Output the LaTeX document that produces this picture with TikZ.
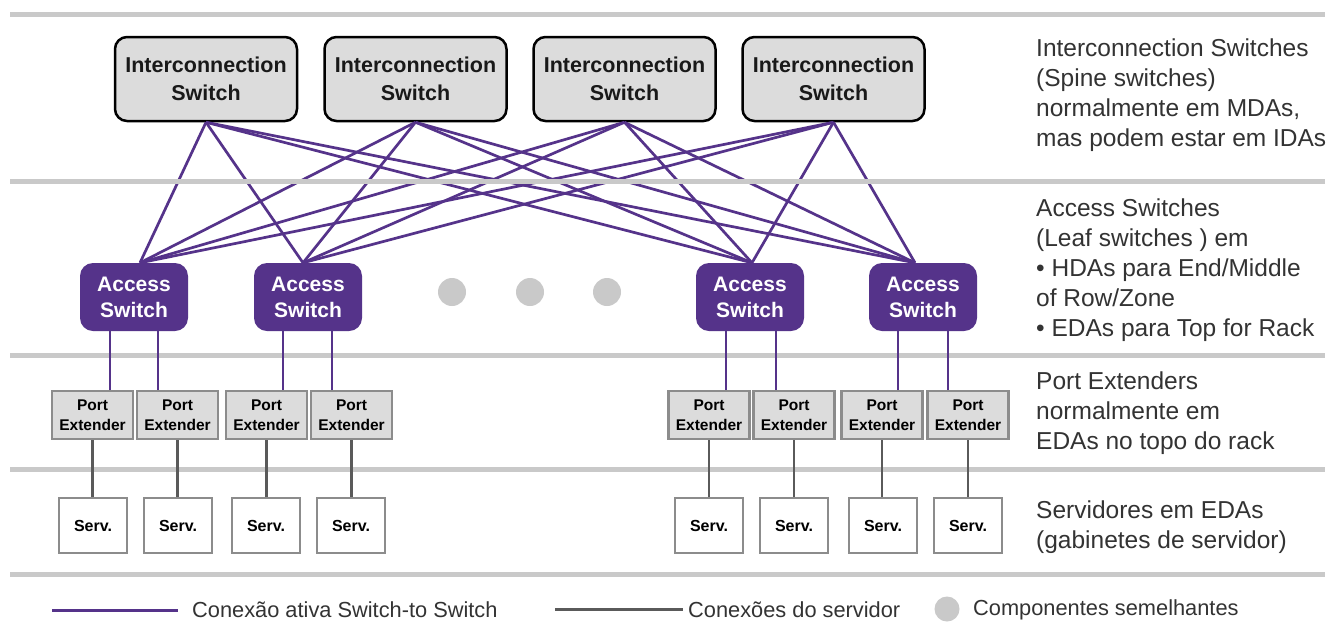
\documentclass[tikz,border=0pt]{standalone}
\usepackage{fontspec}
\setmainfont{Liberation Sans}
\definecolor{purp}{HTML}{55338A}
\definecolor{sepgray}{HTML}{C9C9C9}
\definecolor{boxgray}{HTML}{DCDCDC}
\definecolor{edgegray}{HTML}{8C8C8C}
\definecolor{linkgray}{HTML}{5A5A5A}
\definecolor{txtgray}{HTML}{333333}
\begin{document}
\begin{tikzpicture}[x=1pt,y=-1pt,
  sep/.style={draw=sepgray,line width=5pt},
  isw/.style={draw=black,line width=2.5pt,fill=boxgray,rounded corners=12pt,
    minimum width=182pt,minimum height=84pt,inner sep=0pt,align=center,
    font=\fontsize{21.5}{28}\selectfont\bfseries,text=black!90},
  asw/.style={fill=purp,rounded corners=13pt,minimum width=108pt,minimum height=68pt,
    inner sep=0pt,align=center,font=\fontsize{21}{26}\selectfont\bfseries,text=white},
  pext/.style={draw=edgegray,line width=2.5pt,fill=boxgray,minimum width=81pt,
    minimum height=48pt,inner sep=0pt,align=center,
    font=\fontsize{15.5}{20}\selectfont\bfseries,text=black},
  srv/.style={draw=edgegray,line width=2.5pt,fill=white,minimum width=68pt,
    minimum height=55pt,inner sep=0pt,font=\fontsize{16}{18}\selectfont\bfseries},
  plink/.style={draw=purp,line width=2.7pt},
  glink/.style={draw=linkgray,line width=2.8pt},
  dot/.style={circle,fill=sepgray,minimum size=28pt,inner sep=0pt},
  side/.style={anchor=north west,inner sep=0pt,align=left,text=txtgray,
    font=\fontsize{24.5}{30}\selectfont},
  legend/.style={anchor=west,inner sep=0pt,text=txtgray,font=\fontsize{21.8}{26}\selectfont}
]
\path[fill=white] (0,0) rectangle (1338,622);
\useasboundingbox (0,0) rectangle (1338,622);

% separators
\draw[sep] (10,14) -- (1325,14);
\draw[sep] (10,355) -- (1325,355);
\draw[sep] (10,469) -- (1325,469);
\draw[sep] (10,574) -- (1325,574);

% interconnection switches
\node[isw] (is1) at (206,79) {Interconnection\\Switch};
\node[isw] (is2) at (415.5,79) {Interconnection\\Switch};
\node[isw] (is3) at (624.5,79) {Interconnection\\Switch};
\node[isw] (is4) at (833.5,79) {Interconnection\\Switch};

% access switches
\node[asw] (as1) at (134,297) {Access\\Switch};
\node[asw] (as2) at (308,297) {Access\\Switch};
\node[asw] (as3) at (750,297) {Access\\Switch};
\node[asw] (as4) at (923,297) {Access\\Switch};

% similar components
\node[dot] (d1) at (452,292) {};
\node[dot] (d2) at (530,292) {};
\node[dot] (d3) at (607,292) {};

% port extenders
\node[pext] (pe1) at (92.5,415) {Port\\Extender};
\node[pext] (pe2) at (177.5,415) {Port\\Extender};
\node[pext] (pe3) at (266.5,415) {Port\\Extender};
\node[pext] (pe4) at (351.5,415) {Port\\Extender};
\node[pext] (pe5) at (709,415) {Port\\Extender};
\node[pext] (pe6) at (794,415) {Port\\Extender};
\node[pext] (pe7) at (882,415) {Port\\Extender};
\node[pext] (pe8) at (968,415) {Port\\Extender};

% servers
\node[srv] (s1) at (93,525.5) {Serv.};
\node[srv] (s2) at (178,525.5) {Serv.};
\node[srv] (s3) at (266,525.5) {Serv.};
\node[srv] (s4) at (351,525.5) {Serv.};
\node[srv] (s5) at (709,525.5) {Serv.};
\node[srv] (s6) at (794,525.5) {Serv.};
\node[srv] (s7) at (883,525.5) {Serv.};
\node[srv] (s8) at (968,525.5) {Serv.};

% spine-leaf mesh
\coordinate (t1) at ([xshift=6pt]as1.north);
\coordinate (t2) at ([xshift=-5pt]as2.north);
\coordinate (t3) at ([xshift=2pt]as3.north);
\coordinate (t4) at ([xshift=-8pt]as4.north);
\foreach \i in {1,2,3,4}{
  \foreach \j in {1,2,3,4}{
    \draw[plink] (is\i.south) -- (t\j);
  }
}
\draw[sep] (10,181) -- (1325,181);

% access to port extenders
\draw[plink] ([xshift=-24pt]as1.south) -- ([xshift=-24pt]as1.south |- pe1.north);
\draw[plink] ([xshift=24pt]as1.south) -- ([xshift=24pt]as1.south |- pe2.north);
\draw[plink] ([xshift=-25pt]as2.south) -- ([xshift=-25pt]as2.south |- pe3.north);
\draw[plink] ([xshift=24pt]as2.south) -- ([xshift=24pt]as2.south |- pe4.north);
\draw[plink] ([xshift=-24pt]as3.south) -- ([xshift=-24pt]as3.south |- pe5.north);
\draw[plink] ([xshift=26pt]as3.south) -- ([xshift=26pt]as3.south |- pe6.north);
\draw[plink] ([xshift=-25pt]as4.south) -- ([xshift=-25pt]as4.south |- pe7.north);
\draw[plink] ([xshift=25pt]as4.south) -- ([xshift=25pt]as4.south |- pe8.north);

% port extenders to servers
\foreach \k in {1,...,8}{
  \draw[glink] (pe\k.south) -- (pe\k.south |- s\k.north);
}

% side descriptions
\node[side] (txt1) at (1036,39) {Interconnection Switches\\(Spine switches)\\normalmente em MDAs,\\mas podem estar em IDAs};
\node[side] (txt2) at (1036,199) {Access Switches\\(Leaf switches ) em\\\textbullet\ HDAs para End/Middle\\of Row/Zone\\\textbullet\ EDAs para Top for Rack};
\node[side] (txt3) at (1036,371.5) {Port Extenders\\normalmente em\\EDAs no topo do rack};
\node[side] (txt4) at (1036,500.5) {Servidores em EDAs\\(gabinetes de servidor)};

% legend
\coordinate (la) at (52,610);
\coordinate (lb) at (178,610);
\draw[plink,line width=3pt] (la) -- (lb);
\node[legend] (lt1) at (192,610) {Conexão ativa Switch-to Switch};
\coordinate (lc) at (555,609);
\coordinate (ld) at (683,609);
\draw[glink,line width=3pt] (lc) -- (ld);
\node[legend] (lt2) at (688,610) {Conexões do servidor};
\node[dot,minimum size=25pt] (ldot) at (947,609) {};
\node[legend] (lt3) at (973,610) {Componentes semelhantes};
\end{tikzpicture}
\end{document}
